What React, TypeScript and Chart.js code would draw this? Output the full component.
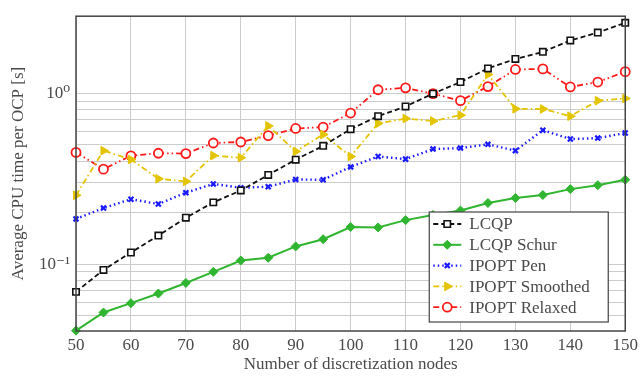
import React, { useEffect, useRef } from "react";
import { Chart, registerables } from "chart.js";

Chart.register(...registerables);

const nodes = [50, 55, 60, 65, 70, 75, 80, 85, 90, 95, 100, 105, 110, 115, 120, 125, 130, 135, 140, 145, 150];
const lcqp = [0.0688, 0.0925, 0.117, 0.147, 0.187, 0.23, 0.27, 0.333, 0.409, 0.493, 0.617, 0.735, 0.838, 0.996, 1.165, 1.4, 1.59, 1.75, 2.04, 2.27, 2.59];
const lcqpSchur = [0.0408, 0.0521, 0.0591, 0.0673, 0.0776, 0.0901, 0.105, 0.109, 0.127, 0.14, 0.165, 0.164, 0.181, 0.194, 0.206, 0.228, 0.244, 0.254, 0.275, 0.29, 0.312];
const ipoptPen = [0.184, 0.213, 0.24, 0.225, 0.262, 0.295, 0.28, 0.284, 0.313, 0.312, 0.371, 0.427, 0.412, 0.472, 0.478, 0.503, 0.462, 0.609, 0.54, 0.547, 0.586];
const ipoptSmoothed = [0.253, 0.462, 0.41, 0.316, 0.305, 0.432, 0.42, 0.645, 0.457, 0.574, 0.427, 0.667, 0.712, 0.689, 0.745, 1.29, 0.812, 0.81, 0.735, 0.906, 0.933];
const ipoptRelaxed = [0.451, 0.36, 0.431, 0.446, 0.444, 0.512, 0.519, 0.566, 0.623, 0.634, 0.767, 1.05, 1.077, 0.996, 0.906, 1.096, 1.38, 1.39, 1.09, 1.165, 1.34];

const seriesNames = ["LCQP", "LCQP Schur", "IPOPT Pen", "IPOPT Smoothed", "IPOPT Relaxed"];
const yGridValues = [0.05, 0.06, 0.07, 0.08, 0.09, 0.1, 0.2, 0.3, 0.4, 0.5, 0.6, 0.7, 0.8, 0.9, 1];
const yTickLabels: Record<string, string> = { "0.1": "10\u207B\u00B9", "1": "10\u2070" };
const xTicks = [50, 60, 70, 80, 90, 100, 110, 120, 130, 140, 150];

const FONT = "'Liberation Serif', 'DejaVu Serif', serif";
const TEXT = "#4a4a4a";

const styles = [
  { color: "#111111", dash: [5, 3], width: 1.8, point: "rect", radius: 4.5, fill: "#ffffff", pbw: 1.6, rot: 0 },
  { color: "#2fb52f", dash: [], width: 2, point: "rectRot", radius: 4.5, fill: "#2fb52f", pbw: 1, rot: 0 },
  { color: "#1a1aff", dash: [1.5, 3], width: 2.4, point: "crossRot", radius: 3.5, fill: "#1a1aff", pbw: 2.2, rot: 0 },
  { color: "#e3c400", dash: [6, 3, 1.5, 3], width: 1.8, point: "triangle", radius: 5, fill: "#e3c400", pbw: 1, rot: 90 },
  { color: "#ff1a1a", dash: [6, 3, 1.5, 3, 1.5, 3], width: 1.8, point: "circle", radius: 4.5, fill: "#ffffff", pbw: 1.8, rot: 0 },
];

function drawMarker(ctx: CanvasRenderingContext2D, s: any, x: number, y: number) {
  ctx.save();
  ctx.setLineDash([]);
  ctx.strokeStyle = s.color;
  ctx.fillStyle = s.fill;
  ctx.lineWidth = s.pbw;
  const r = s.radius;
  ctx.beginPath();
  if (s.point === "rect") {
    const h = r * Math.SQRT1_2;
    ctx.rect(x - h, y - h, 2 * h, 2 * h);
    ctx.fill();
    ctx.stroke();
  } else if (s.point === "rectRot") {
    ctx.moveTo(x, y - r);
    ctx.lineTo(x + r, y);
    ctx.lineTo(x, y + r);
    ctx.lineTo(x - r, y);
    ctx.closePath();
    ctx.fill();
    ctx.stroke();
  } else if (s.point === "crossRot") {
    const h = r * Math.SQRT1_2;
    ctx.moveTo(x - h, y - h);
    ctx.lineTo(x + h, y + h);
    ctx.moveTo(x + h, y - h);
    ctx.lineTo(x - h, y + h);
    ctx.stroke();
  } else if (s.point === "triangle") {
    ctx.moveTo(x + r, y);
    ctx.lineTo(x - r * 0.5, y - r * 0.866);
    ctx.lineTo(x - r * 0.5, y + r * 0.866);
    ctx.closePath();
    ctx.fill();
    ctx.stroke();
  } else {
    ctx.arc(x, y, r, 0, Math.PI * 2);
    ctx.fill();
    ctx.stroke();
  }
  ctx.restore();
}

const framePlugin = {
  id: "frameLegend",
  afterDatasetsDraw(chart: any) {
    const { ctx, chartArea } = chart;
    ctx.save();
    ctx.setLineDash([]);
    ctx.strokeStyle = "#444444";
    ctx.lineWidth = 1.5;
    ctx.strokeRect(chartArea.left, chartArea.top, chartArea.right - chartArea.left, chartArea.bottom - chartArea.top);

    const bw = 179;
    const bh = 110;
    const bx = chartArea.right - 17 - bw;
    const by = chartArea.bottom - 9 - bh;
    ctx.fillStyle = "#ffffff";
    ctx.fillRect(bx, by, bw, bh);
    ctx.strokeStyle = "#444444";
    ctx.lineWidth = 1.2;
    ctx.strokeRect(bx, by, bw, bh);

    ctx.font = `17px ${FONT}`;
    ctx.textBaseline = "middle";
    ctx.textAlign = "left";
    seriesNames.forEach((name, i) => {
      const s = styles[i];
      const y = by + 12 + i * 20.8;
      ctx.save();
      ctx.strokeStyle = s.color;
      ctx.lineWidth = s.width;
      ctx.setLineDash(s.dash);
      ctx.beginPath();
      ctx.moveTo(bx + 4, y);
      ctx.lineTo(bx + 32, y);
      ctx.stroke();
      ctx.restore();
      drawMarker(ctx, s, bx + 18, y);
      ctx.fillStyle = TEXT;
      ctx.fillText(name, bx + 40, y + 1);
    });
    ctx.restore();
  },
};

export default function App() {
  const ref = useRef<HTMLCanvasElement | null>(null);
  useEffect(() => {
    document.body.style.margin = "0";
    const canvas = ref.current;
    if (!canvas) return;
    const seriesData = [lcqp, lcqpSchur, ipoptPen, ipoptSmoothed, ipoptRelaxed];
    const chart = new Chart(canvas, {
      type: "line",
      data: {
        datasets: seriesData.map((vals, i) => {
          const s = styles[i];
          return {
            label: seriesNames[i],
            data: nodes.map((n, j) => ({ x: n, y: vals[j] })),
            borderColor: s.color,
            backgroundColor: s.fill,
            borderWidth: s.width,
            borderDash: s.dash,
            pointStyle: s.point as any,
            pointRadius: s.radius,
            pointRotation: s.rot,
            pointBorderColor: s.color,
            pointBackgroundColor: s.fill,
            pointBorderWidth: s.pbw,
            tension: 0,
            clip: false as any,
          };
        }),
      },
      options: {
        animation: false,
        responsive: false,
        layout: { padding: { top: 6, right: 11.5, left: 0, bottom: 0 } },
        plugins: { legend: { display: false }, tooltip: { enabled: false } },
        scales: {
          x: {
            type: "linear",
            min: 50,
            max: 150,
            afterBuildTicks: (scale: any) => {
              scale.ticks = xTicks.map((v) => ({ value: v }));
            },
            afterFit: (scale: any) => {
              scale.height = 45;
            },
            grid: { color: "#cccccc", lineWidth: 1, drawTicks: false },
            border: { display: false },
            ticks: { font: { family: FONT, size: 17 }, color: TEXT, padding: 4, maxRotation: 0 },
            title: {
              display: true,
              text: "Number of discretization nodes",
              font: { family: FONT, size: 17 },
              color: TEXT,
              padding: { top: 0, bottom: 1 },
            },
          },
          y: {
            type: "logarithmic",
            min: 0.0406,
            max: 2.83,
            afterBuildTicks: (scale: any) => {
              scale.ticks = yGridValues.map((v) => ({ value: v }));
            },
            afterFit: (scale: any) => {
              scale.width = 76;
            },
            grid: { color: "#cccccc", lineWidth: 1, drawTicks: false },
            border: { display: false },
            ticks: {
              autoSkip: false,
              font: { family: FONT, size: 17 },
              color: TEXT,
              padding: 6,
              callback: (v: any) => yTickLabels[String(Number(v))] ?? "",
            },
            title: {
              display: true,
              text: "Average CPU time per OCP [s]",
              font: { family: FONT, size: 17 },
              color: TEXT,
              padding: { top: 8, bottom: 0 },
            },
          },
        },
      },
      plugins: [framePlugin],
    });
    return () => chart.destroy();
  }, []);
  return (
    <div style={{ position: "absolute", left: 0, top: 0, width: 642, height: 376 }}>
      <canvas ref={ref} width={642} height={376} />
    </div>
  );
}
